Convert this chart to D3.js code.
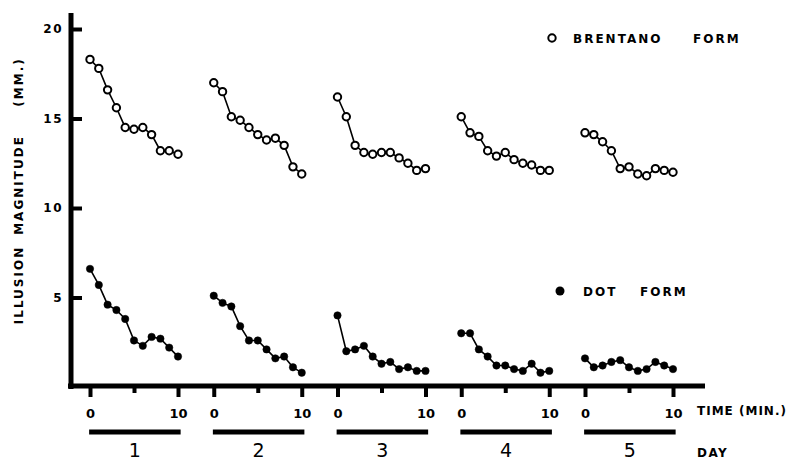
<!DOCTYPE html>
<html><head><meta charset="utf-8">
<script src="https://cdn.jsdelivr.net/npm/d3@7"></script>
<style>
html,body{margin:0;padding:0;background:#fff;}
text{font-family:"DejaVu Sans",sans-serif;fill:#000;}
</style></head>
<body><svg id="c" width="800" height="460"></svg>
<script>
// ---- data ----
const days = [1, 2, 3, 4, 5];
const times = [0, 1, 2, 3, 4, 5, 6, 7, 8, 9, 10];
const timeTicks = [0, 5, 10];
const yTicks = [5, 10, 15, 20];
const brentanoDay1 = [18.3, 17.8, 16.6, 15.6, 14.5, 14.4, 14.5, 14.1, 13.2, 13.2, 13.0];
const brentanoDay2 = [17.0, 16.5, 15.1, 14.9, 14.5, 14.1, 13.8, 13.9, 13.5, 12.3, 11.9];
const brentanoDay3 = [16.2, 15.1, 13.5, 13.1, 13.0, 13.1, 13.1, 12.8, 12.5, 12.1, 12.2];
const brentanoDay4 = [15.1, 14.2, 14.0, 13.2, 12.9, 13.1, 12.7, 12.5, 12.4, 12.1, 12.1];
const brentanoDay5 = [14.2, 14.1, 13.7, 13.2, 12.2, 12.3, 11.9, 11.8, 12.2, 12.1, 12.0];
const dotDay1 = [6.6, 5.7, 4.6, 4.3, 3.8, 2.6, 2.3, 2.8, 2.7, 2.2, 1.7];
const dotDay2 = [5.1, 4.7, 4.5, 3.4, 2.6, 2.6, 2.1, 1.6, 1.7, 1.1, 0.8];
const dotDay3 = [4.0, 2.0, 2.1, 2.3, 1.7, 1.3, 1.4, 1.0, 1.1, 0.9, 0.9];
const dotDay4 = [3.0, 3.0, 2.1, 1.7, 1.2, 1.2, 1.0, 0.9, 1.3, 0.8, 0.9];
const dotDay5 = [1.6, 1.1, 1.2, 1.4, 1.5, 1.1, 0.9, 1.0, 1.4, 1.2, 1.0];
const brentano = [brentanoDay1, brentanoDay2, brentanoDay3, brentanoDay4, brentanoDay5];
const dots = [dotDay1, dotDay2, dotDay3, dotDay4, dotDay5];

// ---- scales ----
const svg = d3.select("#c");
const y = d3.scaleLinear().domain([0, 20]).range([387, 29]);
const xDay = d3.scaleLinear().domain([1, 5]).range([90, 585]);
const xT = d3.scaleLinear().domain([0, 10]).range([0, 88]);
const px = (day, t) => xDay(day) + xT(t);
const bold = sel => sel.style("font-weight", "bold").style("font-family", "'DejaVu Sans', sans-serif");

// ---- axes lines ----
const axisX = 71;
svg.append("line").attr("x1", axisX).attr("x2", axisX).attr("y1", y(20.9)).attr("y2", 389)
  .attr("stroke", "#000").attr("stroke-width", 5);
svg.append("line").attr("x1", 68).attr("x2", 705).attr("y1", 386).attr("y2", 386)
  .attr("stroke", "#000").attr("stroke-width", 5);

// y axis ticks & labels
const yAx = svg.append("g").attr("transform", `translate(${axisX},0)`)
  .call(d3.axisLeft(y).tickValues(yTicks).tickSizeInner(-11).tickSizeOuter(0).tickPadding(8));
yAx.select(".domain").remove();
yAx.selectAll(".tick line").attr("stroke", "#000").attr("stroke-width", 4);
yAx.selectAll(".tick text").attr("font-size", 12).attr("letter-spacing", 1.5).attr("fill", "#000").call(bold);

// x axes per day
days.forEach(d => {
  const g = svg.append("g").attr("transform", `translate(${xDay(d)},386)`)
    .call(d3.axisBottom(xT).tickValues(timeTicks).tickSize(11).tickPadding(12)
      .tickFormat(v => v === 5 ? "" : v));
  g.select(".domain").remove();
  g.selectAll(".tick line").attr("stroke", "#000").attr("stroke-width", 4)
    .attr("y2", v => v === 5 ? 7 : 11);
  g.selectAll(".tick text").attr("font-size", 13).attr("fill", "#000").call(bold);
  // day bar
  svg.append("line").attr("x1", px(d, -0.1)).attr("x2", px(d, 10.3))
    .attr("y1", 432).attr("y2", 432).attr("stroke", "#000").attr("stroke-width", 5);
  svg.append("text").attr("x", px(d, 5.1)).attr("y", 457).attr("text-anchor", "middle")
    .attr("font-size", 19).style("font-weight", "normal").text(d);
});

// ---- series ----
const line = d3.line();
function drawSeries(data, filled) {
  data.forEach((vals, i) => {
    const d = days[i];
    const pts = vals.map((v, k) => [px(d, times[k]), y(v)]);
    svg.append("path").attr("d", line(pts)).attr("fill", "none")
      .attr("stroke", "#000").attr("stroke-width", 1.6);
    svg.append("g").selectAll("circle").data(pts).join("circle")
      .attr("cx", p => p[0]).attr("cy", p => p[1])
      .attr("r", 3.7)
      .attr("fill", filled ? "#000" : "#fff")
      .attr("stroke", "#000").attr("stroke-width", filled ? 0.5 : 2);
  });
}
drawSeries(brentano, false);
drawSeries(dots, true);

// ---- legend ----
svg.append("circle").attr("cx", 552).attr("cy", 38).attr("r", 3.7)
  .attr("fill", "#fff").attr("stroke", "#000").attr("stroke-width", 2);
svg.append("text").attr("x", 573).attr("y", 42.5).attr("font-size", 12).attr("letter-spacing", 2).call(bold).text("BRENTANO");
svg.append("text").attr("x", 693).attr("y", 42.5).attr("font-size", 12).attr("letter-spacing", 2).call(bold).text("FORM");
svg.append("circle").attr("cx", 560).attr("cy", 291).attr("r", 4.5).attr("fill", "#000");
svg.append("text").attr("x", 583).attr("y", 295.5).attr("font-size", 12).attr("letter-spacing", 2).call(bold).text("DOT");
svg.append("text").attr("x", 640).attr("y", 295.5).attr("font-size", 12).attr("letter-spacing", 2).call(bold).text("FORM");

// axis titles
svg.append("text").attr("x", 697).attr("y", 414.5).attr("font-size", 12).attr("letter-spacing", 1).call(bold).text("TIME (MIN.)");
svg.append("text").attr("x", 697).attr("y", 457).attr("font-size", 12).attr("letter-spacing", 1.5).call(bold).text("DAY");

const yTitle = [["ILLUSION", 285], ["MAGNITUDE", 185], ["(MM.)", 82]];
yTitle.forEach(([t, cy]) => {
  svg.append("text").attr("transform", `translate(22.5,${cy}) rotate(-90)`)
    .attr("text-anchor", "middle").attr("font-size", 12).attr("letter-spacing", 2).call(bold).text(t);
});
</script>
</body></html>
